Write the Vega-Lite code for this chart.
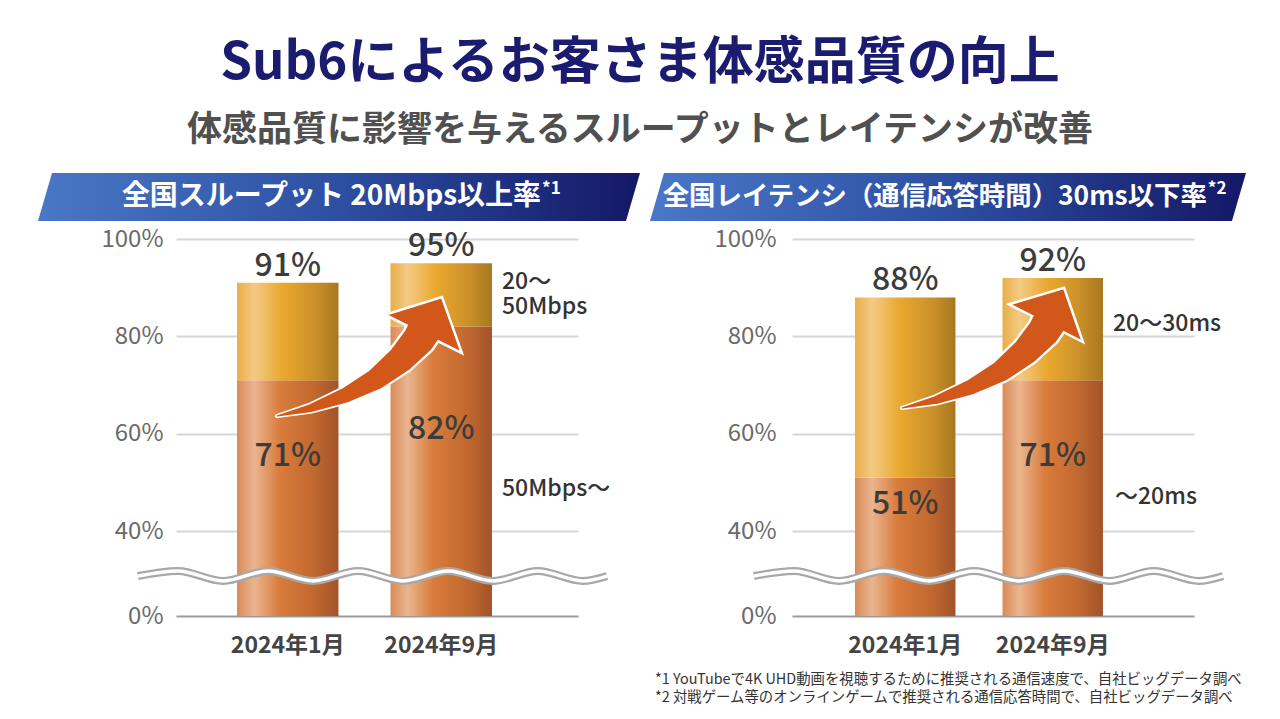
{
  "$schema": "https://vega.github.io/schema/vega-lite/v6.json",
  "padding": {"left": 38, "top": 38, "right": 0, "bottom": 0},
  "background": "white",
  "title": {
    "text": "Sub6によるお客さま体感品質の向上",
    "subtitle": "体感品質に影響を与えるスループットとレイテンシが改善",
    "anchor": "middle",
    "frame": "group",
    "dx": 464,
    "font": "Noto Sans CJK JP",
    "fontSize": 51,
    "fontWeight": "bold",
    "color": "#1b1c6f",
    "subtitleFont": "Noto Sans CJK JP",
    "subtitleFontSize": 35,
    "subtitleFontWeight": "bold",
    "subtitleColor": "#505050",
    "subtitlePadding": 23,
    "offset": 24
  },
  "datasets": {
    "one": [{}],
    "thr": [
      {"month": "2024年1月", "low": 71, "total": 91},
      {"month": "2024年9月", "low": 82, "total": 95}
    ],
    "lat": [
      {"month": "2024年1月", "low": 51, "total": 88},
      {"month": "2024年9月", "low": 71, "total": 92}
    ],
    "wave": [
      {"h": -9.5, "w": 18.8}, {"h": 0.5, "w": 21.2}, {"h": 11.7, "w": 16.5}, {"h": 22.9, "w": 21.2},
      {"h": 34.1, "w": 16.5}, {"h": 45.3, "w": 21.2}, {"h": 56.5, "w": 16.5}, {"h": 67.7, "w": 21.2},
      {"h": 78.9, "w": 16.5}, {"h": 90.0, "w": 21.2}, {"h": 101.2, "w": 16.5}, {"h": 107.2, "w": 18.8}
    ],
    "arrowL": [
      {"h": 25.12, "v": 63.63, "t": 0}, {"h": 33.58, "v": 65.27, "t": 0.21}, {"h": 42.29, "v": 67.95, "t": 0.42},
      {"h": 49.75, "v": 71.24, "t": 0.61}, {"h": 55.97, "v": 75.35, "t": 0.79}, {"h": 60.45, "v": 79.45, "t": 0.94},
      {"h": 62.19, "v": 81.92, "t": 1}
    ],
    "arrowR": [
      {"h": 27.36, "v": 65.28, "t": 0}, {"h": 35.82, "v": 66.92, "t": 0.21}, {"h": 44.53, "v": 69.59, "t": 0.42},
      {"h": 51.99, "v": 72.88, "t": 0.61}, {"h": 58.21, "v": 76.99, "t": 0.79}, {"h": 62.69, "v": 81.10, "t": 0.94},
      {"h": 64.43, "v": 83.56, "t": 1}
    ],
    "notes": [
      {"k": 3, "n": "*1 YouTubeで4K UHD動画を視聴するために推奨される通信速度で、自社ビッグデータ調べ"},
      {"k": 4, "n": "*2 対戦ゲーム等のオンラインゲームで推奨される通信応答時間で、自社ビッグデータ調べ"}
    ]
  },
  "columns": 2,
  "spacing": {"row": 18, "column": 214},
  "bounds": "flush",
  "concat": [
    {
      "width": 402, "height": 48,
      "data": {"name": "one"},
      "encoding": {
        "y": {"datum": 0.5, "type": "quantitative", "scale": {"domain": [0, 1]}, "axis": null}
      },
      "layer": [
        {
          "mark": {"type": "point", "filled": true, "opacity": 1, "size": 362404,
            "shape": "M-0.9535,-0.0797L1,-0.0797L0.9535,0.0797L-1,0.0797Z",
            "fill": {"gradient": "linear", "x1": 0, "y1": 0, "x2": 1, "y2": 0,
              "stops": [{"offset": 0, "color": "#4a77c7"}, {"offset": 0.5, "color": "#2d4fa2"}, {"offset": 1, "color": "#141866"}]},
            "strokeWidth": 0},
          "encoding": {"x": {"datum": 0.4055, "type": "quantitative", "scale": {"domain": [0, 1], "nice": false}, "axis": null}}
        },
        {
          "mark": {"type": "text", "align": "right", "baseline": "middle", "font": "Noto Sans CJK JP", "fontSize": 28, "fontWeight": "bold", "color": "white"},
          "encoding": {"x": {"datum": 0.908, "type": "quantitative"}, "text": {"value": "全国スループット 20Mbps以上率"}}
        },
        {
          "mark": {"type": "text", "align": "left", "baseline": "middle", "dx": 1, "dy": -8, "font": "Noto Sans CJK JP", "fontSize": 17, "fontWeight": "bold", "color": "white"},
          "encoding": {"x": {"datum": 0.908, "type": "quantitative"}, "text": {"value": "*1"}}
        }
      ]
    },
    {
      "width": 402, "height": 48,
      "data": {"name": "one"},
      "encoding": {
        "y": {"datum": 0.5, "type": "quantitative", "scale": {"domain": [0, 1]}, "axis": null}
      },
      "layer": [
        {
          "mark": {"type": "point", "filled": true, "opacity": 1, "size": 355216,
            "shape": "M-0.953,-0.0805L1,-0.0805L0.953,0.0805L-1,0.0805Z",
            "fill": {"gradient": "linear", "x1": 0, "y1": 0, "x2": 1, "y2": 0,
              "stops": [{"offset": 0, "color": "#4a77c7"}, {"offset": 0.5, "color": "#2d4fa2"}, {"offset": 1, "color": "#141866"}]},
            "strokeWidth": 0},
          "encoding": {"x": {"datum": 0.388, "type": "quantitative", "scale": {"domain": [0, 1], "nice": false}, "axis": null}}
        },
        {
          "mark": {"type": "text", "align": "right", "baseline": "middle", "font": "Noto Sans CJK JP", "fontSize": 26.4, "fontWeight": "bold", "color": "white"},
          "encoding": {"x": {"datum": 1.032, "type": "quantitative"}, "text": {"value": "全国レイテンシ（通信応答時間）30ms以下率"}}
        },
        {
          "mark": {"type": "text", "align": "left", "baseline": "middle", "dx": 1, "dy": -8, "font": "Noto Sans CJK JP", "fontSize": 17, "fontWeight": "bold", "color": "white"},
          "encoding": {"x": {"datum": 1.032, "type": "quantitative"}, "text": {"value": "*2"}}
        }
      ]
    },
    {
      "width": 402, "height": 377,
      "data": {"name": "thr"},
      "layer": [
        {
          "encoding": {
            "x": {"field": "month", "type": "nominal", "sort": null, "title": null,
              "scale": {"paddingInner": 0.339, "paddingOuter": 0.479, "align": 0.415},
              "axis": {"domain": false, "ticks": false, "labelPadding": 18, "labelFontSize": 23, "labelFontWeight": "bold", "labelColor": "#444444", "labelAngle": 0, "labelFont": "Noto Sans CJK JP"}}
          },
          "layer": [
            {
              "mark": {"type": "bar", "fill": {"gradient": "linear", "x1": 0, "y1": 0, "x2": 1, "y2": 0,
                "stops": [{"offset": 0, "color": "#d98a57"}, {"offset": 0.17, "color": "#eab590"}, {"offset": 0.42, "color": "#d97c3c"}, {"offset": 0.75, "color": "#c2692f"}, {"offset": 1, "color": "#a3532a"}]}},
              "encoding": {
                "y": {"field": "low", "type": "quantitative", "title": null,
                  "scale": {"domain": [0, 40, 100], "range": [377, 292, 0]},
                  "axis": {"values": [0, 40, 60, 80, 100], "labelExpr": "datum.value + '%'", "domain": false, "ticks": false, "labelPadding": 13, "labelFontSize": 24, "labelColor": "#6a6a6a", "labelFont": "Noto Sans CJK JP", "grid": true, "gridWidth": 2,
                    "gridColor": {"condition": {"test": "datum.value === 0", "value": "#9c9c9c"}, "value": "#d6d6d6"}}},
                "y2": {"datum": 0}
              }
            },
            {
              "mark": {"type": "bar", "fill": {"gradient": "linear", "x1": 0, "y1": 0, "x2": 1, "y2": 0,
                "stops": [{"offset": 0, "color": "#e9ae48"}, {"offset": 0.17, "color": "#f3ca84"}, {"offset": 0.45, "color": "#e9a82e"}, {"offset": 0.78, "color": "#c98f2a"}, {"offset": 1, "color": "#a8771f"}]}},
              "encoding": {"y": {"field": "total", "type": "quantitative", "title": null}, "y2": {"field": "low"}}
            },
            {
              "transform": [{"calculate": "datum.total + '%'", "as": "tl"}],
              "mark": {"type": "text", "baseline": "alphabetic", "dy": -7, "font": "Noto Sans CJK JP", "fontSize": 32, "fontWeight": 500, "color": "#3c3c3c"},
              "encoding": {"y": {"field": "total", "type": "quantitative", "title": null}, "text": {"field": "tl"}}
            },
            {
              "transform": [{"calculate": "datum.low + '%'", "as": "ll"}, {"calculate": "(datum.low + 40) / 2", "as": "lm"}],
              "mark": {"type": "text", "baseline": "middle", "font": "Noto Sans CJK JP", "fontSize": 32, "fontWeight": 500, "color": "#3c3c3c"},
              "encoding": {"y": {"field": "lm", "type": "quantitative", "title": null}, "text": {"field": "ll"}}
            },
            {
              "transform": [{"filter": "datum.month === '2024年9月'"}, {"calculate": "(datum.low + datum.total) / 2", "as": "um"}],
              "mark": {"type": "text", "align": "left", "baseline": "middle", "dx": 10, "dy": -13, "lineBreak": "\n", "lineHeight": 25, "font": "Noto Sans CJK JP", "fontSize": 23, "fontWeight": 500, "color": "#333333"},
              "encoding": {"x": {"field": "month", "type": "nominal", "bandPosition": 1, "title": null}, "y": {"field": "um", "type": "quantitative", "title": null}, "text": {"value": "20～\n50Mbps"}}
            },
            {
              "transform": [{"filter": "datum.month === '2024年9月'"}],
              "mark": {"type": "text", "align": "left", "baseline": "middle", "dx": 10, "font": "Noto Sans CJK JP", "fontSize": 23, "fontWeight": 500, "color": "#333333"},
              "encoding": {"x": {"field": "month", "type": "nominal", "bandPosition": 1, "title": null}, "y": {"datum": 48.6, "type": "quantitative"}, "text": {"value": "50Mbps～"}}
            }
          ]
        },
        {
          "layer": [
            {
              "data": {"name": "wave"},
              "mark": {"type": "line", "interpolate": "monotone", "color": "#a8a8a8", "strokeWidth": 8},
              "encoding": {"x": {"field": "h", "type": "quantitative", "scale": {"domain": [0, 100], "nice": false, "zero": false}, "axis": null}, "y": {"field": "w", "type": "quantitative", "title": null}}
            },
            {
              "data": {"name": "wave"},
              "mark": {"type": "line", "interpolate": "monotone", "color": "#ffffff", "strokeWidth": 3.5},
              "encoding": {"x": {"field": "h", "type": "quantitative"}, "y": {"field": "w", "type": "quantitative", "title": null}}
            },
            {
              "data": {"name": "arrowL"},
              "mark": {"type": "trail", "color": "#ffffff", "fill": "#ffffff"},
              "encoding": {"x": {"field": "h", "type": "quantitative"}, "y": {"field": "v", "type": "quantitative", "title": null},
                "size": {"field": "t", "type": "quantitative", "scale": {"domain": [0, 1], "range": [4, 39]}, "legend": null}}
            },
            {
              "data": {"name": "one"},
              "mark": {"type": "point", "filled": true, "opacity": 1, "shape": "M0,-0.48L1,0.48L-1,0.48Z", "size": 7396, "angle": 26.6, "fill": "#d2571a", "stroke": "#ffffff", "strokeWidth": 2.5, "strokeJoin": "miter"},
              "encoding": {"x": {"datum": 63.87, "type": "quantitative"}, "y": {"datum": 84.28, "type": "quantitative"}}
            },
            {
              "data": {"name": "arrowL"},
              "mark": {"type": "trail", "color": "#d2571a", "fill": "#d2571a"},
              "encoding": {"x": {"field": "h", "type": "quantitative"}, "y": {"field": "v", "type": "quantitative", "title": null},
                "size": {"field": "t", "type": "quantitative", "scale": {"domain": [0, 1], "range": [1, 34]}, "legend": null}}
            }
          ],
          "resolve": {"scale": {"size": "independent"}}
        }
      ],
      "resolve": {"scale": {"x": "independent"}, "axis": {"x": "independent"}}
    },
    {
      "width": 402, "height": 377,
      "data": {"name": "lat"},
      "layer": [
        {
          "encoding": {
            "x": {"field": "month", "type": "nominal", "sort": null, "title": null,
              "scale": {"paddingInner": 0.319, "paddingOuter": 0.522, "align": 0.409},
              "axis": {"domain": false, "ticks": false, "labelPadding": 18, "labelFontSize": 23, "labelFontWeight": "bold", "labelColor": "#444444", "labelAngle": 0, "labelFont": "Noto Sans CJK JP"}}
          },
          "layer": [
            {
              "mark": {"type": "bar", "fill": {"gradient": "linear", "x1": 0, "y1": 0, "x2": 1, "y2": 0,
                "stops": [{"offset": 0, "color": "#d98a57"}, {"offset": 0.17, "color": "#eab590"}, {"offset": 0.42, "color": "#d97c3c"}, {"offset": 0.75, "color": "#c2692f"}, {"offset": 1, "color": "#a3532a"}]}},
              "encoding": {
                "y": {"field": "low", "type": "quantitative", "title": null,
                  "scale": {"domain": [0, 40, 100], "range": [377, 292, 0]},
                  "axis": {"values": [0, 40, 60, 80, 100], "labelExpr": "datum.value + '%'", "domain": false, "ticks": false, "labelPadding": 16, "labelFontSize": 24, "labelColor": "#6a6a6a", "labelFont": "Noto Sans CJK JP", "grid": true, "gridWidth": 2,
                    "gridColor": {"condition": {"test": "datum.value === 0", "value": "#9c9c9c"}, "value": "#d6d6d6"}}},
                "y2": {"datum": 0}
              }
            },
            {
              "mark": {"type": "bar", "fill": {"gradient": "linear", "x1": 0, "y1": 0, "x2": 1, "y2": 0,
                "stops": [{"offset": 0, "color": "#e9ae48"}, {"offset": 0.17, "color": "#f3ca84"}, {"offset": 0.45, "color": "#e9a82e"}, {"offset": 0.78, "color": "#c98f2a"}, {"offset": 1, "color": "#a8771f"}]}},
              "encoding": {"y": {"field": "total", "type": "quantitative", "title": null}, "y2": {"field": "low"}}
            },
            {
              "transform": [{"calculate": "datum.total + '%'", "as": "tl"}],
              "mark": {"type": "text", "baseline": "alphabetic", "dy": -7, "font": "Noto Sans CJK JP", "fontSize": 32, "fontWeight": 500, "color": "#3c3c3c"},
              "encoding": {"y": {"field": "total", "type": "quantitative", "title": null}, "text": {"field": "tl"}}
            },
            {
              "transform": [{"calculate": "datum.low + '%'", "as": "ll"}, {"calculate": "(datum.low + 40) / 2", "as": "lm"}],
              "mark": {"type": "text", "baseline": "middle", "font": "Noto Sans CJK JP", "fontSize": 32, "fontWeight": 500, "color": "#3c3c3c"},
              "encoding": {"y": {"field": "lm", "type": "quantitative", "title": null}, "text": {"field": "ll"}}
            },
            {
              "transform": [{"filter": "datum.month === '2024年9月'"}, {"calculate": "(datum.low + datum.total) / 2", "as": "um"}],
              "mark": {"type": "text", "align": "left", "baseline": "middle", "dx": 10, "dy": -5, "font": "Noto Sans CJK JP", "fontSize": 23, "fontWeight": 500, "color": "#333333"},
              "encoding": {"x": {"field": "month", "type": "nominal", "bandPosition": 1, "title": null}, "y": {"field": "um", "type": "quantitative", "title": null}, "text": {"value": "20～30ms"}}
            },
            {
              "transform": [{"filter": "datum.month === '2024年9月'"}],
              "mark": {"type": "text", "align": "left", "baseline": "middle", "dx": 12, "font": "Noto Sans CJK JP", "fontSize": 23, "fontWeight": 500, "color": "#333333"},
              "encoding": {"x": {"field": "month", "type": "nominal", "bandPosition": 1, "title": null}, "y": {"datum": 47.0, "type": "quantitative"}, "text": {"value": "～20ms"}}
            }
          ]
        },
        {
          "layer": [
            {
              "data": {"name": "wave"},
              "mark": {"type": "line", "interpolate": "monotone", "color": "#a8a8a8", "strokeWidth": 8},
              "encoding": {"x": {"field": "h", "type": "quantitative", "scale": {"domain": [0, 100], "nice": false, "zero": false}, "axis": null}, "y": {"field": "w", "type": "quantitative", "title": null}}
            },
            {
              "data": {"name": "wave"},
              "mark": {"type": "line", "interpolate": "monotone", "color": "#ffffff", "strokeWidth": 3.5},
              "encoding": {"x": {"field": "h", "type": "quantitative"}, "y": {"field": "w", "type": "quantitative", "title": null}}
            },
            {
              "data": {"name": "arrowR"},
              "mark": {"type": "trail", "color": "#ffffff", "fill": "#ffffff"},
              "encoding": {"x": {"field": "h", "type": "quantitative"}, "y": {"field": "v", "type": "quantitative", "title": null},
                "size": {"field": "t", "type": "quantitative", "scale": {"domain": [0, 1], "range": [4, 39]}, "legend": null}}
            },
            {
              "data": {"name": "one"},
              "mark": {"type": "point", "filled": true, "opacity": 1, "shape": "M0,-0.48L1,0.48L-1,0.48Z", "size": 6889, "angle": 27, "fill": "#d2571a", "stroke": "#ffffff", "strokeWidth": 2.5, "strokeJoin": "miter"},
              "encoding": {"x": {"datum": 65.42, "type": "quantitative"}, "y": {"datum": 86.34, "type": "quantitative"}}
            },
            {
              "data": {"name": "arrowR"},
              "mark": {"type": "trail", "color": "#d2571a", "fill": "#d2571a"},
              "encoding": {"x": {"field": "h", "type": "quantitative"}, "y": {"field": "v", "type": "quantitative", "title": null},
                "size": {"field": "t", "type": "quantitative", "scale": {"domain": [0, 1], "range": [1, 34]}, "legend": null}}
            }
          ],
          "resolve": {"scale": {"size": "independent"}}
        }
      ],
      "resolve": {"scale": {"x": "independent"}, "axis": {"x": "independent"}}
    },
    {
      "width": 402, "height": 73,
      "data": {"name": "one"},
      "mark": {"type": "point", "opacity": 0},
      "encoding": {}
    },
    {
      "width": 402, "height": 73,
      "data": {"name": "notes"},
      "mark": {"type": "text", "align": "left", "baseline": "middle", "dx": -137, "font": "Noto Sans CJK JP", "fontSize": 14.4, "color": "#333333"},
      "encoding": {
        "x": {"datum": 0, "type": "quantitative", "scale": {"domain": [0, 1]}, "axis": null},
        "y": {"field": "k", "type": "ordinal", "scale": {"domain": [1, 2, 3, 4]}, "axis": null},
        "text": {"field": "n"}
      }
    }
  ],
  "config": {"view": {"stroke": null}, "font": "Noto Sans CJK JP"}
}
